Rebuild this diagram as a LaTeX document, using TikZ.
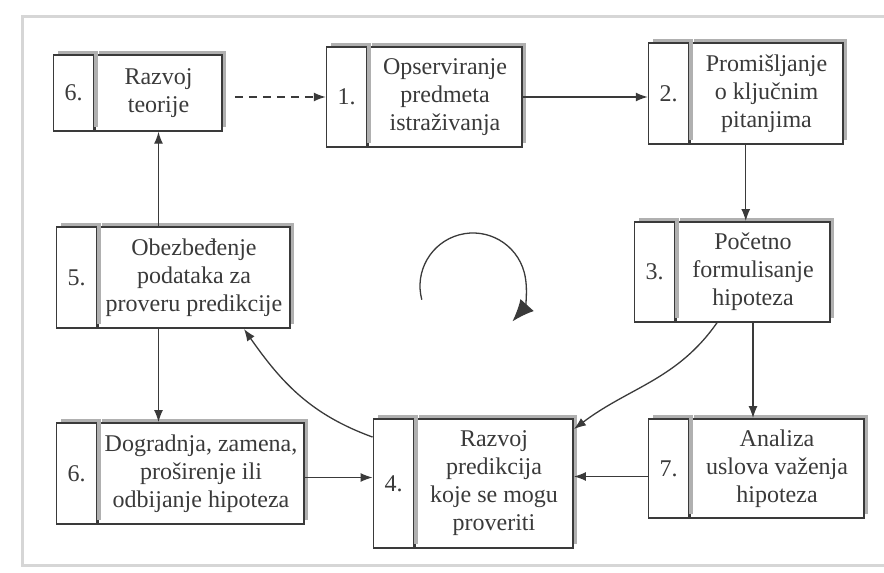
\documentclass[tikz,border=0pt]{standalone}
\usepackage{fontspec}
\setmainfont{Liberation Serif}
\usepackage{tikz}
\usetikzlibrary{positioning,arrows.meta,shadows,fit}

\definecolor{ink}{HTML}{3A3A3A}
\definecolor{shade}{HTML}{B0B0B0}
\definecolor{rim}{HTML}{D6D6D6}

\begin{document}
\begin{tikzpicture}[x=1pt,y=1pt,
  >={Latex[length=12pt,width=9pt]},
  txt/.style={draw=ink, line width=1.5pt, fill=white, align=center, text=ink,
    font=\rmfamily\fontsize{24}{28}\selectfont, inner sep=2pt,
    drop shadow={shadow xshift=4pt, shadow yshift=4pt, fill=shade, opacity=1}},
  num/.style={txt, minimum width=40pt},
  grp/.style={inner sep=0pt},
  link/.style={draw=ink, line width=1.3pt}]

  \useasboundingbox (0,0) rectangle (884,573);
  \draw[rim, line width=3pt] (884,556) -- (22,556) -- (22,7) -- (884,7);

  \node[txt] (t6a) [minimum width=127pt, minimum height=76pt] at (158.5,480) {Razvoj\\teorije};
  \node[num] (n6a) [left=0pt of t6a, minimum height=76pt] {6.};
  \node[txt] (t1) [minimum width=154pt, minimum height=100pt] at (445,476) {Opserviranje\\predmeta\\istraživanja};
  \node[num] (n1) [left=0pt of t1, minimum height=100pt] {1.};
  \node[txt] (t2) [minimum width=153pt, minimum height=101pt] at (766.5,479.5) {Promišljanje\\o ključnim\\pitanjima};
  \node[num] (n2) [left=0pt of t2, minimum height=101pt] {2.};
  \node[txt] (t3) [minimum width=154pt, minimum height=100pt] at (753,301) {Početno\\formulisanje\\hipoteza};
  \node[num] (n3) [left=0pt of t3, minimum height=100pt] {3.};
  \node[txt] (t5) [minimum width=192pt, minimum height=101pt] at (194,295.5) {Obezbeđenje\\podataka za\\proveru predikcije};
  \node[num] (n5) [left=0pt of t5, minimum height=101pt] {5.};
  \node[txt] (t6b) [minimum width=206pt, minimum height=101pt] at (201,99.5) {Dogradnja, zamena,\\proširenje ili\\odbijanje hipoteza};
  \node[num] (n6b) [left=0pt of t6b, minimum height=101pt] {6.};
  \node[txt] (t4) [minimum width=158pt, minimum height=129pt] at (494,89.5) {Razvoj\\predikcija\\koje se mogu\\proveriti};
  \node[num] (n4) [left=0pt of t4, minimum height=129pt] {4.};
  \node[txt] (t7) [minimum width=174pt, minimum height=99pt] at (777,104.5) {Analiza\\uslova važenja\\hipoteza};
  \node[num] (n7) [left=0pt of t7, minimum height=99pt] {7.};

  % whole boxes
  \node[grp, fit=(n6a)(t6a)] (b6a) {};
  \node[grp, fit=(n1)(t1)] (b1) {};
  \node[grp, fit=(n2)(t2)] (b2) {};
  \node[grp, fit=(n3)(t3)] (b3) {};
  \node[grp, fit=(n5)(t5)] (b5) {};
  \node[grp, fit=(n6b)(t6b)] (b6b) {};
  \node[grp, fit=(n4)(t4)] (b4) {};
  \node[grp, fit=(n7)(t7)] (b7) {};

  \path[link, ->, dashed, dash pattern=on 8pt off 6pt, shorten <=12pt] (t6a.east |- t1) -- (n1.west);
  \path[link, ->] (t1.east) -- (t1 -| n2.west);
  \path[link, ->] (b2.south) -- (b2.south |- b3.north);
  \path[link, ->] (t3.south) -- (t3.south |- b7.north);
  \path[link, ->] ([yshift=-8pt]b7.west) -- ([yshift=-8pt]b7.west -| b4.east);
  \path[link, ->] ([yshift=-4pt]b6b.east) -- ([yshift=-4pt]b6b.east -| b4.west);
  \path[link, ->] (t6a.south |- b5.north) -- (t6a.south);
  \path[link, ->] (t6a.south |- b5.south) -- (t6a.south |- b6b.north);
  \path[link, ->] ([xshift=-36pt]t3.south) to[out=235, in=37] ([yshift=-11pt]b4.north east);
  \path[link, ->] ([yshift=-19pt]b4.north west) to[out=160, in=305] ([xshift=-47pt]b5.south east);

  \coordinate (cyc) at (473,287);
  \draw[link, -{Latex[length=22pt,width=18pt]}] (cyc) ++(195:53) arc[start angle=195, end angle=-42, radius=53];

\end{tikzpicture}
\end{document}
